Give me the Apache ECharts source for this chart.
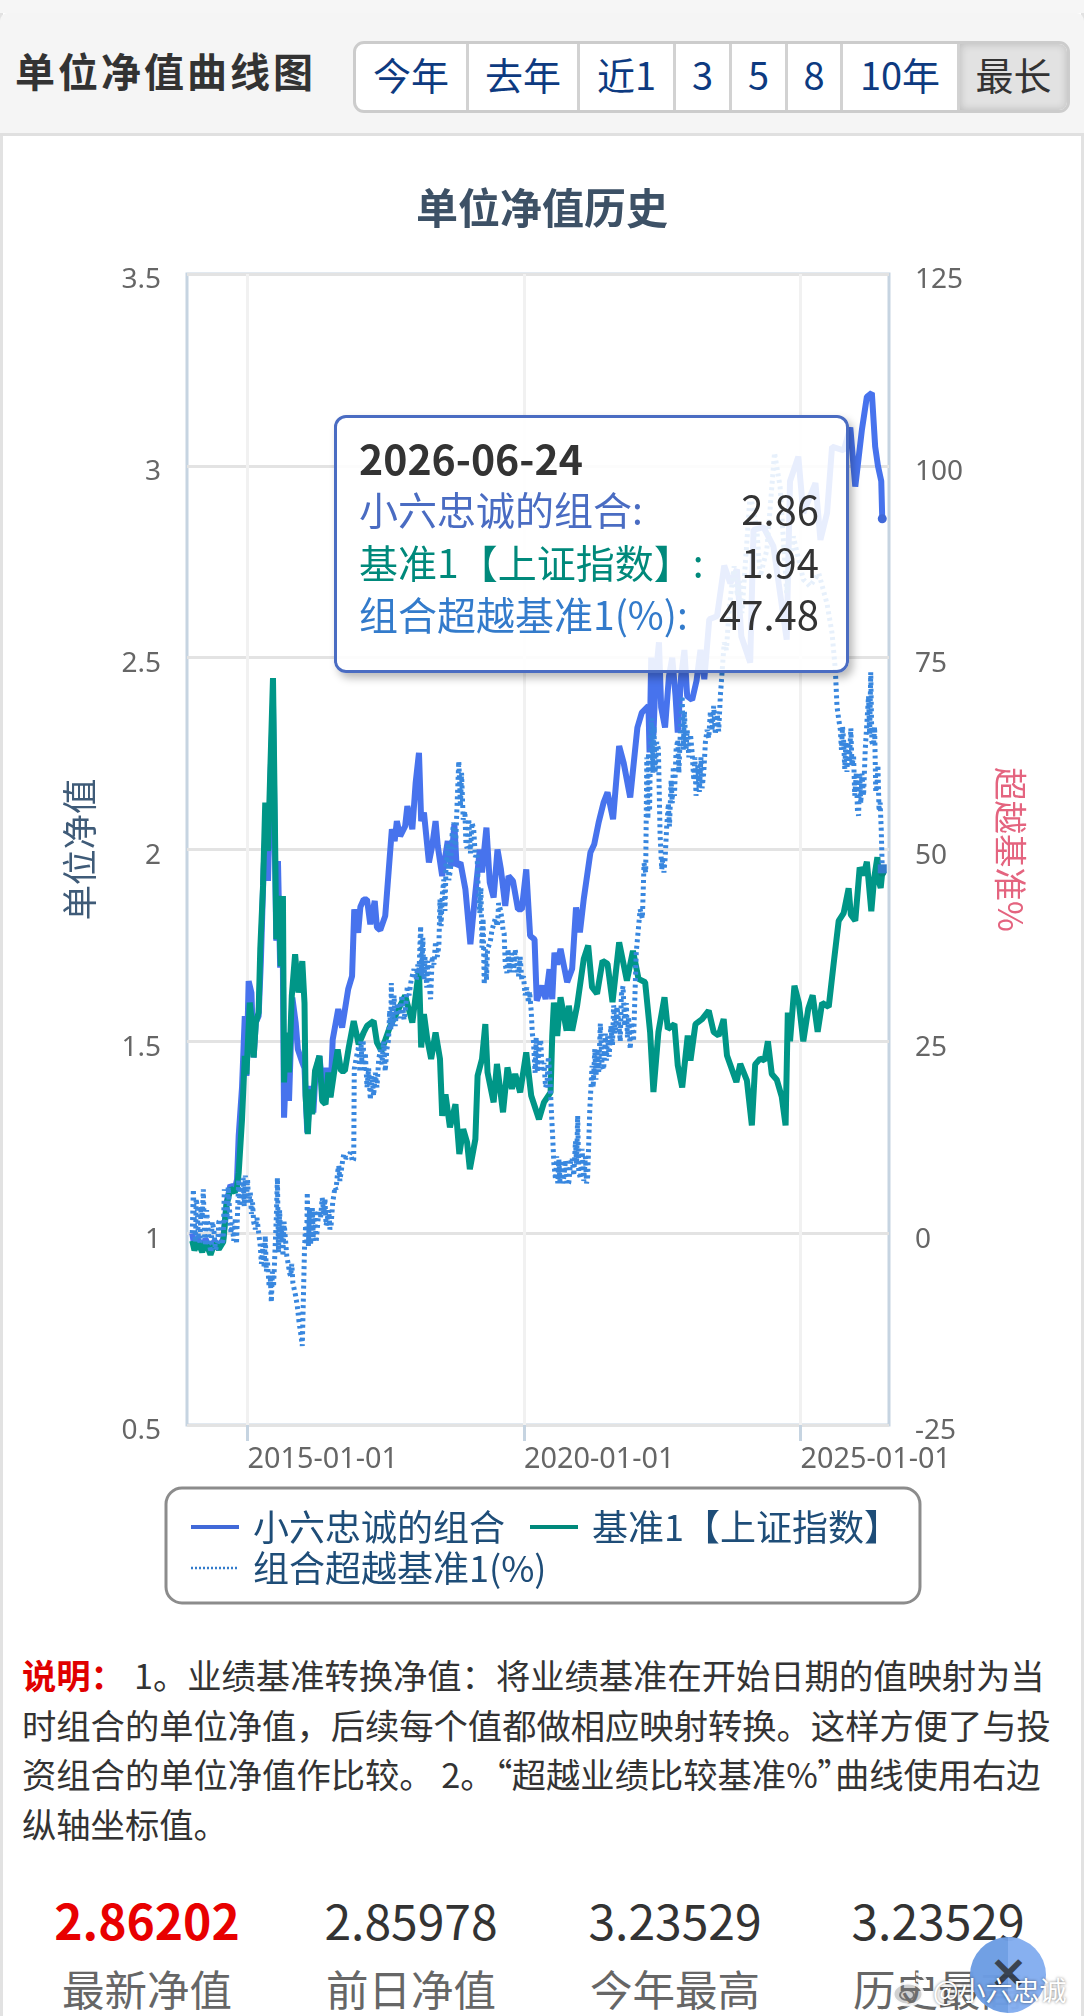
<!DOCTYPE html>
<html lang="zh-CN">
<head>
<meta charset="utf-8">
<title>单位净值曲线图</title>
<script src="https://cdn.jsdelivr.net/npm/echarts@6/dist/echarts.min.js"></script>
<style>
  html, body { margin: 0; padding: 0; background: #fff; }
  body { position: relative; width: 1084px; height: 2016px; overflow: hidden;
         font-family: "Noto Sans CJK SC", "Noto Sans", sans-serif; color: #333; }
  .edge { position: absolute; top: 13px; bottom: 0; width: 3px; background: #e2e2e2; }
  .top-strip { position: absolute; left: 0; right: 0; top: 0; height: 13px; background: #f6f6f6; }
  .header { position: absolute; left: 0; right: 0; top: 13px; height: 120px; background: #f5f5f5;
            border-bottom: 3px solid #e0e0e0; border-radius: 8px 8px 0 0; box-sizing: content-box; }
  .header h1 { position: absolute; left: 15px; top: 30px; margin: 0; font-size: 40px; line-height: 54px;
               font-weight: 700; letter-spacing: 3px; color: #333; white-space: nowrap; }
  .range { position: absolute; left: 353px; top: 28px; width: 717px; height: 72px; box-sizing: border-box;
           display: flex; background: #fff; border: 3px solid #ccc; border-radius: 11px; overflow: hidden; }
  .range span { display: block; box-sizing: border-box; height: 100%; text-align: center; line-height: 60px;
                font-size: 38px; color: #0d3a80; border-right: 3px solid #d2d2d2; }
  .range span.on { color: #333; background: #e2e2e2; border-right: 0; box-shadow: inset 0 0 8px rgba(0,0,0,.18); }
  #chart { position: absolute; left: 3px; top: 136px; width: 1078px; height: 1500px; }
  .notes { position: absolute; left: 22px; top: 1650px; margin: 0; font-size: 34.3px; line-height: 49.7px;
           color: #333; white-space: nowrap; }
  .notes b { color: #e00000; font-weight: 700; margin-right: 9px; }
  .notes i { font-style: normal; font-feature-settings: "palt"; }
  .stat { position: absolute; width: 260px; margin-left: -130px; text-align: center; }
  .stat .num { position: absolute; left: 0; right: 0; top: 1884px; font-size: 48px; line-height: 70px; color: #333; }
  .stat .num.hot { color: #e80000; font-weight: 700; }
  .stat .cap { position: absolute; left: 0; right: 0; top: 1958px; font-size: 42.5px; line-height: 60px; color: #666; }
  .fab { position: absolute; left: 970px; top: 1937px; width: 76px; height: 76px; border-radius: 50%;
         background: linear-gradient(90deg, #6d9de4 0 50%, #84aef0 50% 100%); color: #333d4c; text-align: center;
         font-size: 44px; line-height: 66px; font-weight: 700; opacity: .97; }
  .mark { position: absolute; left: 933px; top: 1970px; font-size: 27px; line-height: 40px; color: #fff;
          white-space: nowrap; text-shadow: 0 0 3px rgba(0,0,0,.55); }
  .logo { position: absolute; left: 890px; top: 1968px; width: 42px; height: 42px; }
</style>
</head>
<body>
<div class="top-strip"></div>
<div class="edge" style="left:0"></div>
<div class="edge" style="right:0"></div>

<div class="header">
  <h1>单位净值曲线图</h1>
  <div class="range" id="range"></div>
</div>

<div id="chart"></div>

<p class="notes"><b>说明：</b>1。业绩基准转换净值：将业绩基准在开始日期的值映射为当<br>时组合的单位净值，后续每个值都做相应映射转换。这样方便了与投<br>资组合的单位净值作比较。 2。<i>“</i>超越业绩比较基准%<i>”</i>曲线使用右边<br>纵轴坐标值。</p>

<div id="stats"></div>
<div class="fab">✕</div>
<svg class="logo" viewBox="0 0 42 42" fill="none" stroke="rgba(255,255,255,.9)" stroke-width="3">
  <ellipse cx="18" cy="26" rx="15" ry="11" fill="rgba(120,120,120,.35)"/>
  <ellipse cx="17" cy="27" rx="7" ry="5" stroke="rgba(110,110,110,.9)" stroke-width="2"/>
  <path d="M26 6c7 0 11 5 10 12M26 12c3 0 5 2 4 6"/>
</svg>
<div class="mark">@小六忠诚</div>

<script>
// Range selector
const rangeButtons = ['今年', '去年', '近1', '3', '5', '8', '10年', '最长'];
const rangeWidths = [113, 111, 96, 56, 56, 55, 117, 107];

// Summary figures under the chart
const statValues = ['2.86202', '2.85978', '3.23529', '3.23529'];
const statCaptions = ['最新净值', '前日净值', '今年最高', '历史最高'];
const statCentres = [147, 411, 675, 938];

// Years labelled on the horizontal axis
const yearTicks = [2015, 2020, 2025];

// Latest reading
const latestDate = '2026-06-24';
const latestNav = 2.86;
const latestBench = 1.94;
const latestExcess = 47.48;

// Portfolio unit value, by decimal year
const navYears = [
  2014.00,2014.04,2014.10,2014.18,2014.24,2014.33,2014.40,2014.48,2014.56,2014.62,2014.69,2014.77,2014.81,2014.84,2014.90,2014.95,2014.98,
  2015.02,2015.07,2015.11,2015.15,2015.20,2015.24,2015.29,2015.34,2015.37,2015.42,2015.46,2015.49,2015.52,2015.55,2015.59,2015.63,2015.66,2015.70,2015.75,2015.81,2015.87,2015.91,2015.98,
  2016.03,2016.08,2016.14,2016.19,2016.23,2016.30,2016.38,2016.43,2016.50,2016.54,2016.64,2016.71,2016.82,2016.89,2016.93,
  2017.00,2017.04,2017.10,2017.16,2017.22,2017.30,2017.34,2017.40,2017.49,2017.55,2017.61,2017.66,2017.70,2017.76,2017.85,2017.89,2017.98,
  2018.04,2018.10,2018.14,2018.19,2018.28,2018.34,2018.40,2018.44,2018.52,2018.62,2018.68,2018.74,2018.78,2018.85,2018.94,
  2019.03,2019.12,2019.20,2019.24,2019.32,2019.38,2019.45,2019.52,2019.58,2019.66,2019.72,2019.80,2019.89,2019.96,
  2020.04,2020.11,2020.19,2020.23,2020.33,2020.39,2020.46,2020.51,2020.55,2020.60,2020.66,2020.78,2020.87,2020.94,
  2021.01,2021.08,2021.20,2021.27,2021.35,2021.44,2021.51,2021.61,2021.72,2021.80,2021.92,
  2022.05,2022.13,2022.25,2022.27,2022.30,2022.34,2022.38,2022.44,2022.48,2022.55,2022.62,2022.68,2022.74,2022.78,2022.84,2022.90,2022.95,
  2023.04,2023.12,2023.19,2023.26,2023.35,2023.49,2023.62,2023.73,2023.85,2023.93,
  2024.09,2024.15,2024.33,2024.51,2024.75,2024.81,2024.96,
  2025.05,2025.27,2025.36,2025.48,2025.57,2025.78,2025.90,2025.99,
  2026.11,2026.20,2026.29,2026.35,2026.40,2026.46,2026.478
];
const navValues = [
  1.00,0.965,0.985,0.96,0.985,0.955,0.98,0.965,0.985,1.08,1.125,1.115,1.14,1.254,1.38,1.566,1.41,
  1.657,1.627,1.458,1.55,1.566,1.705,1.948,2.096,1.918,2.208,2.382,2.035,1.762,1.97,1.692,1.861,1.301,1.445,1.345,1.614,1.549,1.479,1.449,
  1.43,1.262,1.384,1.314,1.419,1.462,1.34,1.431,1.358,1.505,1.584,1.536,1.636,1.67,1.844,
  1.783,1.85,1.87,1.87,1.805,1.866,1.797,1.79,1.827,1.94,2.053,2.022,2.074,2.035,2.061,2.113,2.053,
  2.174,2.252,2.074,2.096,1.966,2.01,2.074,2.009,1.931,2.022,1.957,2.066,1.957,1.966,1.896,
  1.753,1.888,2.0,1.94,2.057,1.914,1.875,2.0,1.95,1.853,1.931,1.918,1.844,1.844,
  1.948,1.775,1.766,1.606,1.645,1.61,1.688,1.61,1.731,1.70,1.741,1.654,1.689,1.849,
  1.784,1.871,1.992,2.014,2.071,2.123,2.149,2.079,2.27,2.227,2.136,
  2.318,2.357,2.374,2.253,2.50,2.30,2.45,2.54,2.37,2.318,2.45,2.50,2.40,2.305,2.45,2.52,2.40,
  2.39,2.44,2.52,2.444,2.60,2.608,2.74,2.694,2.73,2.555,
  2.487,2.833,2.84,2.79,2.547,2.96,3.024,
  2.877,2.955,2.807,2.877,3.05,3.04,3.10,2.946,
  3.094,3.18,3.19,3.05,3.0,2.96,2.86202
];

// Benchmark converted to unit value, by decimal year
const benchYears = [
  2014.00,2014.04,2014.10,2014.18,2014.24,2014.33,2014.40,2014.48,2014.56,2014.62,2014.69,2014.77,2014.81,2014.84,2014.87,2014.90,2014.95,2014.98,
  2015.04,2015.08,2015.11,2015.15,2015.20,2015.23,2015.28,2015.32,2015.37,2015.41,2015.46,2015.49,2015.52,2015.56,2015.60,2015.64,2015.66,2015.70,2015.75,2015.80,2015.86,2015.92,2015.99,
  2016.03,2016.05,2016.09,2016.13,2016.17,2016.22,2016.30,2016.35,2016.41,2016.46,2016.50,2016.56,2016.63,2016.69,2016.76,2016.83,2016.92,
  2017.01,2017.10,2017.16,2017.28,2017.34,2017.42,2017.58,2017.73,2017.85,2017.98,
  2018.10,2018.14,2018.19,2018.25,2018.32,2018.40,2018.48,2018.52,2018.58,2018.66,2018.76,2018.83,2018.90,2018.97,
  2019.02,2019.12,2019.16,2019.24,2019.30,2019.34,2019.45,2019.51,2019.62,2019.70,2019.78,2019.84,2019.93,
  2020.04,2020.13,2020.27,2020.36,2020.48,2020.51,2020.54,2020.60,2020.66,2020.77,2020.81,2020.87,2020.96,
  2021.08,2021.16,2021.23,2021.32,2021.42,2021.51,2021.60,2021.72,2021.86,2021.97,
  2022.07,2022.19,2022.28,2022.34,2022.43,2022.54,2022.60,2022.72,2022.78,2022.86,2022.96,
  2023.01,2023.10,2023.22,2023.34,2023.43,2023.52,2023.61,2023.67,2023.84,2023.91,
  2024.03,2024.06,2024.12,2024.18,2024.27,2024.35,2024.41,2024.48,2024.57,2024.66,2024.73,2024.77,2024.81,2024.89,2024.97,
  2025.05,2025.14,2025.22,2025.31,2025.39,2025.51,2025.60,2025.69,2025.78,2025.87,2025.91,2025.99,
  2026.07,2026.14,2026.20,2026.28,2026.33,2026.39,2026.42,2026.45,2026.478
];
const benchValues = [
  0.98,0.955,0.977,0.951,0.977,0.944,0.973,0.958,0.977,1.072,1.116,1.107,1.12,1.158,1.228,1.297,1.462,1.414,
  1.601,1.549,1.458,1.549,1.575,1.74,1.905,2.122,1.996,2.20,2.447,2.122,1.766,1.879,1.696,1.879,1.393,1.523,1.419,1.618,1.727,1.627,1.709,
  1.60,1.358,1.258,1.375,1.31,1.423,1.462,1.345,1.336,1.419,1.354,1.414,1.479,1.423,1.423,1.484,1.553,
  1.492,1.523,1.54,1.553,1.497,1.475,1.54,1.584,1.619,1.549,
  1.688,1.484,1.571,1.506,1.454,1.523,1.454,1.306,1.362,1.276,1.336,1.206,1.271,1.237,
  1.167,1.245,1.41,1.454,1.545,1.419,1.341,1.441,1.315,1.432,1.376,1.415,1.367,
  1.471,1.358,1.297,1.341,1.367,1.515,1.601,1.514,1.615,1.528,1.593,1.528,1.593,
  1.715,1.75,1.641,1.624,1.71,1.702,1.602,1.758,1.658,1.736,
  1.663,1.654,1.524,1.368,1.524,1.615,1.532,1.545,1.437,1.38,1.515,
  1.45,1.545,1.558,1.58,1.524,1.515,1.558,1.463,1.394,1.441,
  1.398,1.396,1.281,1.44,1.455,1.45,1.50,1.415,1.40,1.356,1.281,1.575,1.50,1.645,1.60,
  1.50,1.585,1.62,1.525,1.60,1.59,1.704,1.814,1.834,1.899,1.83,1.814,
  1.953,1.933,1.968,1.839,1.923,1.98,1.915,1.90,1.94
];

// Excess return over the benchmark in percent, as [decimal year, percent]
const excessReadings = [
  [2014.00,0],[2014.02,5.7],[2014.04,1],[2014.06,-1.2],[2014.07,4.5],[2014.09,3.5],[2014.11,-0.5],[2014.14,-1.2],[2014.16,3.5],[2014.18,2],[2014.20,5.7],[2014.22,0],[2014.24,-1.65],[2014.26,3],[2014.28,2.9],[2014.31,-1.5],[2014.34,-2.5],[2014.36,1.5],[2014.39,0.5],[2014.42,-2.2],[2014.46,-1.2],[2014.48,1.5],[2014.51,1.8],[2014.54,-1.5],[2014.56,-0.8],[2014.58,5.7],[2014.60,1.5],[2014.63,2.2],[2014.65,6],[2014.68,6.2],[2014.70,0],[2014.72,1.4],[2014.75,-1],[2014.78,2],[2014.80,-1.4],[2014.82,3],[2014.84,7],[2014.86,3.5],[2014.88,6.5],[2014.90,4.4],[2014.92,7.2],[2014.94,3.5],[2014.96,7.5],[2014.98,4],
  [2015.00,7],[2015.02,4],[2015.05,5.3],[2015.07,2.5],[2015.09,4],[2015.11,1.5],[2015.14,0.5],[2015.17,2],[2015.20,0.1],[2015.23,-1.65],[2015.25,-4],[2015.28,-1.5],[2015.30,-4.5],[2015.32,-0.35],[2015.34,-5],[2015.36,-3.6],[2015.39,-7],[2015.41,-5.5],[2015.43,-9],[2015.45,-5],[2015.47,-7],[2015.49,-3.4],[2015.52,2],[2015.54,7.2],[2015.56,-2.5],[2015.58,3],[2015.60,-1.2],[2015.62,1],[2015.64,-3],[2015.66,1.5],[2015.69,1.6],[2015.71,-3],[2015.73,-3.8],[2015.76,-5.2],[2015.78,-5.6],[2015.80,-4],[2015.82,-6.5],[2015.85,-7.5],[2015.87,-8.2],[2015.90,-9.5],[2015.93,-11.5],[2015.96,-13],[2015.99,-14.7],
  [2016.03,-2],[2016.05,1],[2016.07,-1.5],[2016.08,5.3],[2016.10,-1.7],[2016.12,3],[2016.14,-1.5],[2016.17,3.5],[2016.19,-1],[2016.21,3],[2016.24,-1.2],[2016.27,-1.4],[2016.29,3],[2016.32,2],[2016.35,4.6],[2016.38,2.5],[2016.40,4.5],[2016.42,1],[2016.44,1.8],[2016.47,3],[2016.49,0.5],[2016.51,0.95],[2016.54,4],[2016.56,4.9],[2016.58,6],[2016.60,5.7],[2016.63,8],[2016.65,8.8],[2016.67,6.8],[2016.69,6.6],[2016.72,9.5],[2016.74,10.3],[2016.78,9.8],[2016.82,10],[2016.86,10.5],[2016.90,9.3],[2016.92,9.6],[2016.93,21.4],[2016.97,23],
  [2017.01,24.4],[2017.03,21],[2017.05,25],[2017.07,22],[2017.09,25.2],[2017.11,21],[2017.13,23.5],[2017.16,19],[2017.19,21.5],[2017.22,17.4],[2017.25,20.5],[2017.28,17.9],[2017.31,20.9],[2017.34,19],[2017.37,22.5],[2017.40,23.9],[2017.43,22],[2017.46,25],[2017.49,21.1],[2017.52,24],[2017.55,25.2],[2017.57,29],[2017.59,26.5],[2017.60,32.6],[2017.62,27],[2017.65,31],[2017.67,27],[2017.70,29.5],[2017.73,30],[2017.76,28],[2017.79,31],[2017.83,27.8],[2017.86,29.5],[2017.89,32.2],[2017.92,31],[2017.96,33],
  [2018.01,34.4],[2018.05,33],[2018.08,35],[2018.10,33.9],[2018.13,40],[2018.15,33.5],[2018.17,38.5],[2018.19,33],[2018.21,36],[2018.24,32],[2018.26,35.5],[2018.28,32.6],[2018.31,30.5],[2018.34,36.1],[2018.37,35],[2018.40,38],[2018.43,36],[2018.46,37.4],[2018.48,43.5],[2018.50,40],[2018.52,44],[2018.55,46.1],[2018.57,42],[2018.59,48],[2018.62,50.8],[2018.64,46],[2018.67,47.4],[2018.70,52],[2018.73,53.5],[2018.76,50],[2018.79,56],[2018.82,61.5],[2018.84,58],[2018.85,55.6],[2018.87,60],[2018.90,53.9],[2018.93,55],[2018.95,50.5],[2018.97,50.2],
  [2019.00,54],[2019.03,49.5],[2019.06,53.5],[2019.09,52.6],[2019.12,49],[2019.15,49.5],[2019.17,45],[2019.20,41.7],[2019.22,45],[2019.24,37.2],[2019.26,41],[2019.28,32.4],[2019.30,37],[2019.32,33],[2019.34,37],[2019.36,37.4],[2019.39,38],[2019.42,39.5],[2019.45,39.6],[2019.48,41],[2019.52,40],[2019.54,43],[2019.57,42.2],[2019.60,41],[2019.62,39.5],[2019.64,39.1],[2019.66,35],[2019.69,33.9],[2019.71,37],[2019.74,34],[2019.78,36.5],[2019.81,34],[2019.84,37],[2019.87,35.2],[2019.90,33.5],[2019.93,36],[2019.96,33],[2019.99,33.5],
  [2020.02,31],[2020.05,32],[2020.08,30],[2020.10,31.5],[2020.13,28.9],[2020.15,26],[2020.17,25],[2020.20,20.9],[2020.22,25.5],[2020.24,21],[2020.27,24],[2020.30,25.2],[2020.33,21],[2020.36,22.2],[2020.39,19],[2020.42,20],[2020.44,23],[2020.46,21.3],[2020.49,16.6],[2020.52,12.2],[2020.54,9],[2020.57,7],[2020.59,10],[2020.61,6.5],[2020.63,9.6],[2020.65,6.7],[2020.68,9.5],[2020.70,6.5],[2020.72,7.3],[2020.75,9.5],[2020.78,6.3],[2020.81,6.6],[2020.84,9.2],[2020.87,9.8],[2020.90,7.5],[2020.93,12],[2020.95,9],[2020.97,15.3],[2020.99,8],
  [2021.02,7.1],[2021.05,11],[2021.08,6.8],[2021.11,10],[2021.13,6.5],[2021.15,7.3],[2021.19,16.3],[2021.23,21.8],[2021.25,19],[2021.28,24],[2021.30,20],[2021.32,23.8],[2021.35,21],[2021.38,27.3],[2021.41,22],[2021.44,21.3],[2021.47,26],[2021.49,22.5],[2021.51,25.7],[2021.54,23],[2021.57,27],[2021.60,24.5],[2021.62,29.7],[2021.65,26],[2021.68,29.5],[2021.71,27.7],[2021.74,25],[2021.76,31],[2021.79,32.2],[2021.82,27],[2021.85,30],[2021.87,25.5],[2021.89,28.2],[2021.92,24],[2021.95,27.5],[2021.98,25],
  [2022.03,36.7],[2022.10,42.2],[2022.14,41],[2022.17,48.2],[2022.20,47],[2022.22,62],[2022.24,54],[2022.25,62.6],[2022.27,55],[2022.29,65],[2022.31,67.1],[2022.33,60],[2022.35,66],[2022.37,60],[2022.40,64],[2022.43,63.1],[2022.46,52],[2022.49,47.4],[2022.51,49],[2022.53,47],[2022.55,48.7],[2022.58,53],[2022.61,56],[2022.63,53],[2022.66,59],[2022.68,56],[2022.70,60.8],[2022.72,57],[2022.75,63],[2022.78,64.3],[2022.80,60],[2022.83,66],[2022.86,70],[2022.88,63],[2022.90,68],[2022.93,63],[2022.95,65.6],[2022.98,62],
  [2023.01,65],[2023.04,62.6],[2023.07,59],[2023.09,62],[2023.11,57],[2023.14,61],[2023.17,57.5],[2023.20,62],[2023.22,58],[2023.25,60],[2023.28,64],[2023.31,65.6],[2023.34,64.5],[2023.37,68],[2023.40,65.5],[2023.43,68.7],[2023.46,65],[2023.49,68],[2023.52,65.4],[2023.55,70],[2023.58,73],[2023.62,77],[2023.66,76],[2023.70,80.4],[2023.75,84],[2023.80,86.9],[2023.86,83],[2023.90,85],[2023.94,80.8],
  [2024.09,96.4],[2024.21,91.7],[2024.27,85.6],[2024.39,89],[2024.53,101.7],[2024.63,97.3],[2024.75,83.4],[2024.87,90.8],
  [2025.05,85.2],[2025.17,84.3],[2025.33,86],[2025.48,82],[2025.57,78.2],[2025.63,73.4],[2025.66,68.6],[2025.69,67],[2025.72,65.6],[2025.74,63],[2025.76,66],[2025.78,64.1],[2025.80,60.5],[2025.82,64],[2025.84,60.1],[2025.86,64],[2025.88,61],[2025.91,65.8],[2025.93,61],[2025.96,62.1],[2025.98,57],
  [2026.01,60],[2026.03,55],[2026.05,54.4],[2026.07,60],[2026.09,56],[2026.11,59.9],[2026.14,57],[2026.17,63],[2026.20,63.1],[2026.23,70],[2026.25,65],[2026.27,73.1],[2026.29,64],[2026.32,63.6],[2026.34,66],[2026.36,57.5],[2026.38,58.1],[2026.40,61],[2026.42,55],[2026.44,56.1],[2026.46,52.5],[2026.478,47.48]
];

const navName = '小六忠诚的组合';
const benchName = '基准1【上证指数】';
const excessName = '组合超越基准1(%)';
const navColor = '#4169d8';
const benchColor = '#00897b';
const excessColor = '#337bcb';

const pairs = (years, values) => years.map((y, i) => [y, values[i]]);

// Page furniture around the chart
document.getElementById('range').innerHTML = rangeButtons
  .map((t, i) => `<span class="${i === rangeButtons.length - 1 ? 'on' : ''}" style="width:${rangeWidths[i]}px">${t}</span>`)
  .join('');
document.getElementById('stats').innerHTML = statValues
  .map((v, i) => `<div class="stat" style="left:${statCentres[i]}px"><div class="num${i === 0 ? ' hot' : ''}">${v}</div><div class="cap">${statCaptions[i]}</div></div>`)
  .join('');

const cjk = '"Noto Sans CJK SC", "Noto Sans", sans-serif';
const latin = '"Noto Sans", "Noto Sans CJK SC", sans-serif';

const chart = echarts.init(document.getElementById('chart'), null, { renderer: 'canvas' });

function tooltipRow(label, value, colour) {
  return `<div style="display:flex;justify-content:space-between;height:52.5px;line-height:52.5px;">` +
         `<span style="color:${colour}">${label}:</span><span style="color:#333;font-size:40px">${value}</span></div>`;
}

chart.setOption({
  animation: false,
  backgroundColor: '#fff',
  title: {
    text: '单位净值历史', left: 'center', top: 46,
    textStyle: { fontFamily: cjk, fontSize: 42, fontWeight: 700, color: '#3d5166' }
  },
  grid: {
    left: 184, right: 192, top: 138, height: 1151,
    show: true, borderColor: '#c6d4e1', borderWidth: 3, containLabel: false
  },
  legend: {
    left: 163, top: 1352,
    orient: 'horizontal', width: 800,
    padding: [21, 2, 17, 23],
    itemGap: 5, itemWidth: 48, itemHeight: 36,
    borderColor: '#8c8c8c', borderWidth: 3, borderRadius: 16,
    backgroundColor: '#fff',
    // an en space after each name keeps the entries apart without widening the row pitch
    formatter: name => name + '\u2002',
    textStyle: { fontFamily: cjk, fontSize: 36, color: '#1e4d78', padding: [0, 0, 0, 9] },
    data: [
      { name: navName, itemStyle: { opacity: 0 }, lineStyle: { width: 4 } },
      { name: benchName, itemStyle: { opacity: 0 }, lineStyle: { width: 4 } },
      { name: excessName, itemStyle: { opacity: 0 }, lineStyle: { width: 2.5, type: [2, 2] } }
    ]
  },
  tooltip: {
    trigger: 'axis',
    axisPointer: { type: 'none' },
    alwaysShowContent: true,
    transitionDuration: 0,
    showDelay: 0,
    backgroundColor: 'rgba(255,255,255,0.88)',
    borderColor: '#4a6cc2',
    borderWidth: 3,
    padding: 0,
    position: () => [330.5, 279],
    extraCssText: 'width:515px;height:258px;box-sizing:border-box;border-radius:12px;padding:14px 27px 15px 22px;box-shadow:4px 5px 8px rgba(0,0,0,.28);',
    textStyle: { fontFamily: cjk, fontSize: 39, color: '#333' },
    formatter: () =>
      `<div style="font-weight:700;font-size:41px;line-height:50px;color:#333">${latestDate}</div>` +
      tooltipRow(navName, latestNav.toFixed(2), '#4a6cc2') +
      tooltipRow(benchName, latestBench.toFixed(2), benchColor) +
      tooltipRow(excessName, latestExcess.toFixed(2), excessColor)
  },
  xAxis: {
    type: 'value',
    min: 2013.905,
    max: 2026.60,
    axisLine: { show: false, onZero: false },
    axisTick: { show: true, customValues: yearTicks, length: 16, lineStyle: { color: '#c6d4e1', width: 3 } },
    axisLabel: {
      customValues: yearTicks, hideOverlap: false, showMinLabel: true, showMaxLabel: true,
      align: 'left', margin: 20,
      fontFamily: latin, fontSize: 28.8, color: '#666',
      formatter: v => `${v}-01-01`
    },
    splitLine: { show: true, lineStyle: { color: '#f1f1f1', width: 3 } }
  },
  yAxis: [
    {
      type: 'value', min: 0.5, max: 3.5, interval: 0.5,
      name: '单位净值', nameLocation: 'middle', nameGap: 90, nameRotate: 90,
      nameTextStyle: { fontFamily: cjk, fontSize: 35.5, color: '#3f5b78' },
      axisLine: { show: false }, axisTick: { show: false },
      axisLabel: { margin: 26, fontFamily: latin, fontSize: 28, color: '#666', verticalAlign: 'top', lineHeight: 13 },
      splitLine: { show: true, lineStyle: { color: '#e3e3e3', width: 3 } }
    },
    {
      type: 'value', min: -25, max: 125, interval: 25, position: 'right',
      name: '超越基准%', nameLocation: 'middle', nameGap: 105, nameRotate: -90,
      nameTextStyle: { fontFamily: cjk, fontSize: 33.5, color: '#e4647f' },
      axisLine: { show: false }, axisTick: { show: false },
      axisLabel: { margin: 26, fontFamily: latin, fontSize: 28, color: '#666', verticalAlign: 'top', lineHeight: 13 },
      splitLine: { show: false }
    }
  ],
  series: [
    {
      name: navName, type: 'line', yAxisIndex: 0, z: 2,
      data: pairs(navYears, navValues),
      showSymbol: false, symbol: 'circle', symbolSize: 9,
      lineStyle: { color: navColor, width: 6 }, itemStyle: { color: navColor },
      emphasis: { scale: 1, lineStyle: { width: 6 } }
    },
    {
      name: benchName, type: 'line', yAxisIndex: 0, z: 3,
      data: pairs(benchYears, benchValues),
      showSymbol: false, symbol: 'circle', symbolSize: 8,
      lineStyle: { color: benchColor, width: 6 }, itemStyle: { color: benchColor },
      emphasis: { scale: 1, lineStyle: { width: 6 } }
    },
    {
      name: excessName, type: 'line', yAxisIndex: 1, z: 4,
      data: excessReadings,
      showSymbol: false, symbol: 'rect', symbolSize: 9,
      lineStyle: { color: excessColor, width: 5, type: [3, 3.5] }, itemStyle: { color: excessColor },
      emphasis: { scale: 1, lineStyle: { width: 5 } }
    }
  ]
});

chart.dispatchAction({ type: 'showTip', seriesIndex: 0, dataIndex: navYears.length - 1 });
</script>
</body>
</html>
